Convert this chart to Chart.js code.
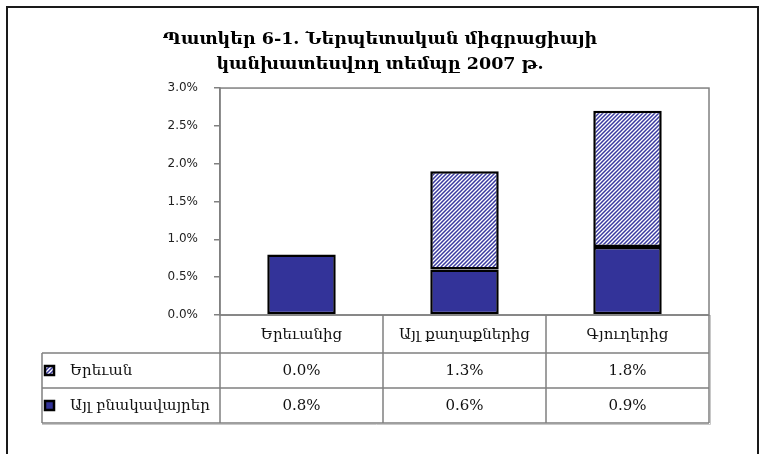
<!DOCTYPE html>
<html>
<head>
<meta charset="utf-8">
<script src="https://cdn.jsdelivr.net/npm/chart.js@4"></script>
<style>
  body { margin: 0; background: #fff; }
  #wrap { width: 760px; height: 454px; }
</style>
</head>
<body>
<div id="wrap"><canvas id="migrChart" width="760" height="454"></canvas></div>
<script>
// տվյալներ
var categories = ['Երեւանից', 'Այլ քաղաքներից', 'Գյուղերից'];
var yerevanData = [0.0, 1.3, 1.8];
var otherData = [0.8, 0.6, 0.9];
var seriesNames = ['Երեւան', 'Այլ բնակավայրեր'];
var titleLines = ['Պատկեր 6-1. Ներպետական միգրացիայի', 'կանխատեսվող տեմպը 2007 թ.'];

var navy = '#333399';
var gridGray = '#808080';

// շեղ գծերով նախշ
function makeHatch() {
    var s = 4;
    var c = document.createElement('canvas');
    c.width = s; c.height = s;
    var x = c.getContext('2d');
    x.fillStyle = '#fff';
    x.fillRect(0, 0, s, s);
    x.strokeStyle = '#3a3aa0';
    x.lineWidth = 1.5;
    x.beginPath();
    x.moveTo(0, s); x.lineTo(s, 0);
    x.moveTo(-1, 1); x.lineTo(1, -1);
    x.moveTo(s - 1, s + 1); x.lineTo(s + 1, s - 1);
    x.stroke();
    return document.getElementById('migrChart').getContext('2d').createPattern(c, 'repeat');
}
var hatch = makeHatch();

var fmt = function (v) { return v.toFixed(1) + '%'; };

// շրջանակ, աղյուսակ
var tablePlugin = {
    id: 'dataTable',
    beforeDraw: function (chart) {
        var ctx = chart.ctx;
        ctx.save();
        ctx.strokeStyle = '#1a1a1a';
        ctx.lineWidth = 2;
        ctx.strokeRect(7, 7, 751, 470);
        ctx.restore();
    },
    afterDraw: function (chart) {
        var ctx = chart.ctx;
        var a = chart.chartArea;
        var xs = chart.scales.x;
        var rowH = [38, 35, 35];
        var left = 42;
        var colW = (a.right - a.left) / categories.length;
        var y0 = a.bottom, y1 = y0 + rowH[0], y2 = y1 + rowH[1], y3 = y2 + rowH[2];

        ctx.save();
        // plot border
        ctx.strokeStyle = gridGray;
        ctx.lineWidth = 1.5;
        ctx.strokeRect(a.left, a.top, a.right - a.left, a.bottom - a.top);

        // table lines
        ctx.beginPath();
        ctx.moveTo(a.left, y0); ctx.lineTo(a.right, y0);
        ctx.moveTo(left, y1); ctx.lineTo(a.right, y1);
        ctx.moveTo(left, y2); ctx.lineTo(a.right, y2);
        ctx.moveTo(left, y3); ctx.lineTo(a.right, y3);
        ctx.moveTo(left, y1); ctx.lineTo(left, y3);
        for (var i = 0; i <= categories.length; i++) {
            var lx = a.left + i * colW;
            ctx.moveTo(lx, y0); ctx.lineTo(lx, y3);
        }
        ctx.stroke();
        // light shadow right/bottom
        ctx.strokeStyle = '#c8c8c8';
        ctx.lineWidth = 1;
        ctx.beginPath();
        ctx.moveTo(a.right + 1.5, y0); ctx.lineTo(a.right + 1.5, y3 + 1.5); ctx.lineTo(left, y3 + 1.5);
        ctx.stroke();

        ctx.fillStyle = '#111';
        ctx.font = '15px "DejaVu Serif"';
        ctx.textAlign = 'center';
        ctx.textBaseline = 'middle';
        categories.forEach(function (c, i) {
            var cx = xs.getPixelForValue(i);
            ctx.fillText(c, cx, (y0 + y1) / 2 + 1);
            ctx.fillText(fmt(yerevanData[i]), cx, (y1 + y2) / 2 + 1);
            ctx.fillText(fmt(otherData[i]), cx, (y2 + y3) / 2 + 1);
        });

        // legend keys
        var rows = [[y1, y2, hatch], [y2, y3, navy]];
        ctx.textAlign = 'left';
        rows.forEach(function (r, i) {
            var my = (r[0] + r[1]) / 2;
            ctx.fillStyle = r[2];
            ctx.fillRect(45, my - 4.5, 9, 9);
            ctx.strokeStyle = '#000';
            ctx.lineWidth = 2.5;
            ctx.strokeRect(45, my - 4.5, 9, 9);
            ctx.fillStyle = '#111';
            ctx.fillText(seriesNames[i], 70, my + 1);
        });
        ctx.restore();
    }
};

var ctx = document.getElementById('migrChart');
var migrChart = new Chart(ctx, {
    type: 'bar',
    data: {
        labels: categories,
        datasets: [{
            label: seriesNames[1],
            data: otherData,
            backgroundColor: navy,
            borderColor: '#000',
            borderWidth: 2.5,
            borderSkipped: false,
            barPercentage: 0.42,
            categoryPercentage: 1
        }, {
            label: seriesNames[0],
            data: yerevanData,
            backgroundColor: hatch,
            borderColor: '#000',
            borderWidth: 2.5,
            borderSkipped: false,
            barPercentage: 0.42,
            categoryPercentage: 1
        }]
    },
    options: {
        responsive: false,
        animation: false,
        layout: { padding: { left: 51, top: 0, right: 51, bottom: 139 } },
        plugins: {
            legend: { display: false },
            tooltip: { enabled: false },
            title: {
                display: true,
                text: titleLines,
                color: '#000',
                font: { family: '"DejaVu Serif"', size: 17.5, weight: 'bold', lineHeight: 1.43 },
                padding: { top: 27, bottom: 11 }
            }
        },
        scales: {
            x: {
                stacked: true,
                display: false
            },
            y: {
                stacked: true,
                min: 0,
                max: 3,
                afterFit: function (scale) { scale.width = 169; },
                ticks: {
                    stepSize: 0.5,
                    padding: 16,
                    color: '#222',
                    font: { family: '"DejaVu Sans"', size: 12 },
                    callback: function (v) { return fmt(v); }
                },
                grid: {
                    drawOnChartArea: false,
                    tickLength: 6,
                    color: gridGray,
                    lineWidth: 1.5
                },
                border: { color: gridGray, width: 1.5 }
            }
        }
    },
    plugins: [tablePlugin]
});
</script>
</body>
</html>
